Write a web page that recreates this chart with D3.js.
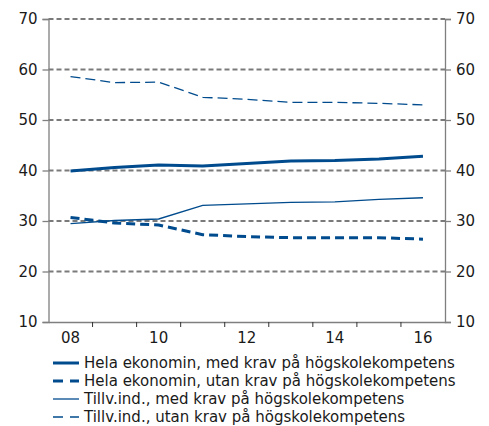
<!DOCTYPE HTML>
<html>
<head>
  <style>
  body {
    margin: 0;
    background: #fff;
  }
  text {
    font-family: 'DejaVu Sans', Verdana, sans-serif;
    font-size: 15px;
    fill: #1a1a1a;
  }
  </style>
  <script src="https://d3js.org/d3.v7.min.js"></script>
</head>
<body>
  <script type="text/javascript">
  var years = ['08', '09', '10', '11', '12', '13', '14', '15', '16'];
  var yearLabels = ['08', '10', '12', '14', '16'];
  var yTicks = [10, 20, 30, 40, 50, 60, 70];

  var helaMed = [39.9, 40.6, 41.1, 40.9, 41.4, 41.9, 42.0, 42.3, 42.8];
  var helaUtan = [30.7, 29.6, 29.2, 27.3, 26.9, 26.7, 26.7, 26.7, 26.4];
  var tillvMed = [29.5, 30.1, 30.4, 33.1, 33.4, 33.7, 33.8, 34.3, 34.6];
  var tillvUtan = [58.6, 57.4, 57.5, 54.5, 54.1, 53.5, 53.5, 53.3, 53.0];

  var seriesNames = [
    'Hela ekonomin, med krav på högskolekompetens',
    'Hela ekonomin, utan krav på högskolekompetens',
    'Tillv.ind., med krav på högskolekompetens',
    'Tillv.ind., utan krav på högskolekompetens'
  ];

  var blue = '#004b8d';
  var series = [
    {name: seriesNames[0], values: helaMed, width: 3, dash: null},
    {name: seriesNames[1], values: helaUtan, width: 3, dash: '9,5'},
    {name: seriesNames[2], values: tillvMed, width: 1.3, dash: null},
    {name: seriesNames[3], values: tillvUtan, width: 1.3, dash: '10,5'}
  ];

  var plotLeft = 48.5, plotRight = 445, plotTop = 19, plotBottom = 322;

  var svg = d3.select('body')
              .append('svg')
              .attr('width', 489)
              .attr('height', 426);

  var x = d3.scaleBand()
            .domain(years)
            .range([plotLeft, plotRight]);

  var y = d3.scaleLinear()
            .domain([10, 70])
            .range([plotBottom, plotTop]);

  // gridlines
  svg.append('g')
     .selectAll('line')
     .data(yTicks.slice(1))
     .enter()
     .append('line')
     .attr('x1', plotLeft)
     .attr('x2', plotRight)
     .attr('y1', function(d) { return y(d); })
     .attr('y2', function(d) { return y(d); })
     .attr('stroke', '#7a7a7a')
     .attr('stroke-width', 2)
     .attr('stroke-dasharray', '5,3');

  // axes
  var yLeft = d3.axisLeft(y).tickValues(yTicks).tickSize(6).tickPadding(5);
  var yRight = d3.axisRight(y).tickValues(yTicks).tickSize(6).tickPadding(5);

  svg.append('g')
     .attr('class', 'axis')
     .attr('transform', 'translate(' + plotLeft + ',0)')
     .call(yLeft);

  svg.append('g')
     .attr('class', 'axis')
     .attr('transform', 'translate(' + plotRight + ',0)')
     .call(yRight);

  var xAxis = d3.axisBottom(x).tickSize(0).tickPadding(10)
                .tickFormat(function(d) { return yearLabels.indexOf(d) >= 0 ? d : ''; });

  svg.append('g')
     .attr('class', 'axis')
     .attr('transform', 'translate(0,' + plotBottom + ')')
     .call(xAxis);

  // x tick marks at band edges
  svg.append('g')
     .selectAll('line')
     .data(years.slice(1))
     .enter()
     .append('line')
     .attr('x1', function(d) { return x(d); })
     .attr('x2', function(d) { return x(d); })
     .attr('y1', plotBottom)
     .attr('y2', plotBottom + 5)
     .attr('stroke', '#333')
     .attr('stroke-width', 1);

  svg.selectAll('.axis path, .axis line')
     .attr('stroke', '#7f7f7f')
     .attr('stroke-width', 1.3);
  svg.selectAll('.axis text')
     .style('font-family', "'DejaVu Sans', Verdana, sans-serif")
     .style('font-size', '15px')
     .attr('fill', '#1a1a1a');

  // lines
  var line = d3.line()
               .x(function(d, i) { return x(years[i]) + x.bandwidth() / 2; })
               .y(function(d) { return y(d); });

  svg.append('g')
     .selectAll('path')
     .data(series)
     .enter()
     .append('path')
     .attr('d', function(d) { return line(d.values); })
     .attr('fill', 'none')
     .attr('stroke', blue)
     .attr('stroke-width', function(d) { return d.width; })
     .attr('stroke-dasharray', function(d) { return d.dash; });

  // legend
  var legend = svg.append('g')
                  .selectAll('g')
                  .data(series)
                  .enter()
                  .append('g')
                  .attr('transform', function(d, i) { return 'translate(53,' + (363 + i * 18) + ')'; });

  legend.append('line')
        .attr('x1', 0)
        .attr('x2', 26)
        .attr('stroke', blue)
        .attr('stroke-width', function(d) { return d.width; })
        .attr('stroke-dasharray', function(d) { return d.dash ? '10,7' : null; });

  legend.append('text')
        .attr('x', 31)
        .attr('dy', '0.35em')
        .text(function(d) { return d.name; });
  </script>
</body>
</html>
